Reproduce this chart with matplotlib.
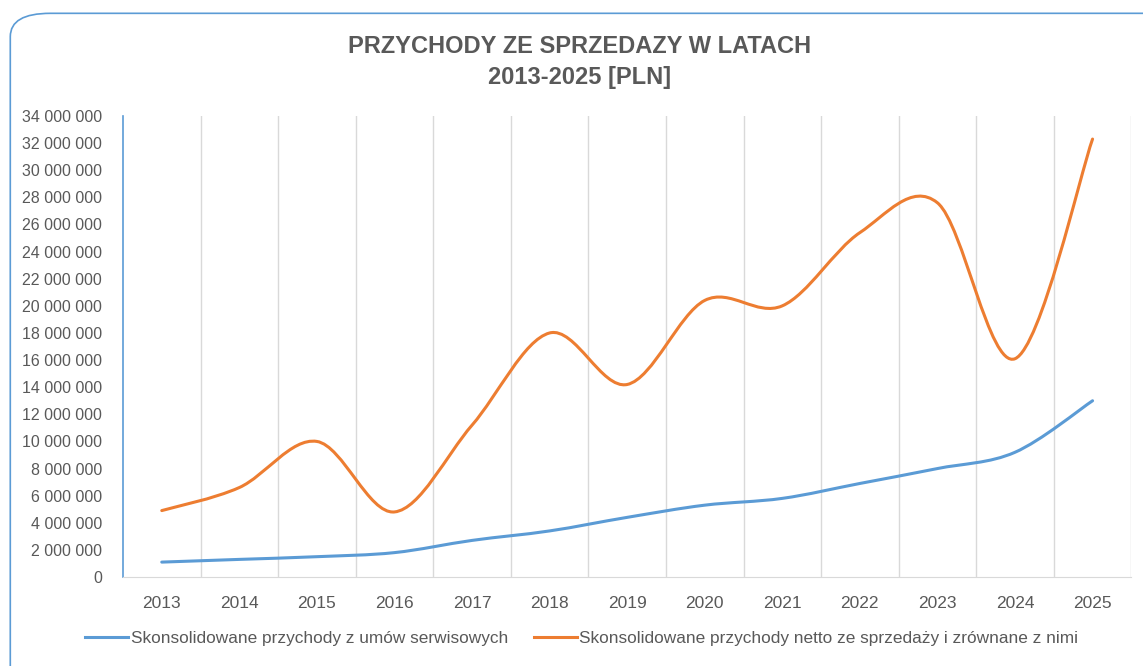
import matplotlib.pyplot as plt
from matplotlib.path import Path
from matplotlib.patches import PathPatch, FancyBboxPatch
from matplotlib.lines import Line2D
from matplotlib.ticker import FuncFormatter, MultipleLocator

plt.rcParams['font.family'] = ['Liberation Sans', 'DejaVu Sans']

years = ["2013", "2014", "2015", "2016", "2017", "2018", "2019",
         "2020", "2021", "2022", "2023", "2024", "2025"]
serwis = [1.1e6, 1.3e6, 1.5e6, 1.8e6, 2.7e6, 3.4e6, 4.4e6,
          5.3e6, 5.8e6, 6.9e6, 8.0e6, 9.2e6, 13.0e6]
sprzedaz = [4.9e6, 6.6e6, 10.0e6, 4.8e6, 11.2e6, 18.0e6, 14.2e6,
            20.4e6, 20.0e6, 25.4e6, 27.6e6, 16.1e6, 32.3e6]

blue = "#5B9BD5"
orange = "#ED7D31"
gray = "#595959"


def smooth_path(xs, ys):
    # bezier through the points, like excel "smoothed line"
    verts = [(xs[0], ys[0])]
    codes = [Path.MOVETO]
    n = len(xs)
    for i in range(n - 1):
        x0, y0 = (xs[i - 1], ys[i - 1]) if i > 0 else (xs[i], ys[i])
        x1, y1 = xs[i], ys[i]
        x2, y2 = xs[i + 1], ys[i + 1]
        x3, y3 = (xs[i + 2], ys[i + 2]) if i + 2 < n else (x2, y2)
        c1 = (x1 + (x2 - x0) / 6, y1 + (y2 - y0) / 6)
        c2 = (x2 - (x3 - x1) / 6, y2 - (y3 - y1) / 6)
        verts += [c1, c2, (x2, y2)]
        codes += [Path.CURVE4] * 3
    return Path(verts, codes)


fig = plt.figure(figsize=(11.43, 6.66), dpi=100)
fig.patches.append(FancyBboxPatch((0.009, -0.05), 1.05, 1.03, boxstyle="round,pad=0,rounding_size=0.035",
                                  transform=fig.transFigure, facecolor="white",
                                  edgecolor=blue, linewidth=1.2, zorder=-5))

ax = fig.add_axes([0.1076, 0.1336, 0.8822, 0.6922])
ax.set_facecolor("none")
xs = list(range(len(years)))
for vals, col in [(serwis, blue), (sprzedaz, orange)]:
    ax.add_patch(PathPatch(smooth_path(xs, vals), facecolor="none", edgecolor=col,
                           linewidth=2.2, capstyle="round", zorder=3))

ax.set_xlim(-0.5, len(years) - 0.5)
ax.set_ylim(0, 34e6)
ax.yaxis.set_major_locator(MultipleLocator(2e6))
ax.yaxis.set_major_formatter(FuncFormatter(lambda v, p: f"{int(v):,}".replace(",", " ")))
ax.set_xticks(xs)
ax.set_xticklabels(years)
ax.set_xticks([x + 0.5 for x in xs], minor=True)
ax.grid(True, axis="x", which="minor", color="#D9D9D9", linewidth=1)
ax.tick_params(axis="x", which="both", length=0, pad=14, labelsize=12.5, labelcolor=gray)
ax.tick_params(axis="y", length=0, pad=15, labelsize=11.5, labelcolor=gray)
for s in ["top", "right"]:
    ax.spines[s].set_visible(False)
ax.spines["left"].set_color(blue)
ax.spines["left"].set_linewidth(1.2)
ax.spines["bottom"].set_color("#D9D9D9")

fig.text(0.507, 0.930, "PRZYCHODY ZE SPRZEDAZY W LATACH", ha="center", va="center",
         fontsize=17, fontweight="bold", color=gray)
fig.text(0.507, 0.883, "2013-2025 [PLN]", ha="center", va="center",
         fontsize=17, fontweight="bold", color=gray)

handles = [Line2D([], [], color=blue, linewidth=2.2), Line2D([], [], color=orange, linewidth=2.2)]
labels = ["Skonsolidowane przychody z umów serwisowych",
          "Skonsolidowane przychody netto ze sprzedaży i zrównane z nimi"]
fig.legend(handles, labels, loc="center", bbox_to_anchor=(0.509, 0.042), ncol=2, frameon=False,
           fontsize=12.4, labelcolor=gray, handlelength=2.5, handletextpad=0.15, columnspacing=1.5)

fig.savefig("out.png", dpi=100)
